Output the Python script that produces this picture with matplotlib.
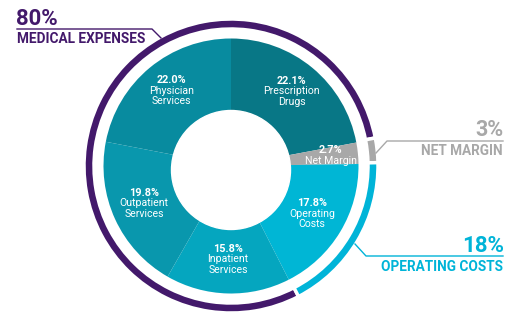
import numpy as np
import matplotlib
matplotlib.use("Agg")
import matplotlib.pyplot as plt
from matplotlib.patches import Circle

# data (clockwise from 12 o'clock)
categories = ["Prescription\nDrugs", "Net Margin", "Operating\nCosts",
              "Inpatient\nServices", "Outpatient\nServices", "Physician\nServices"]
shares = [22.1, 2.7, 17.8, 15.8, 19.8, 22.0]
groups = ["medical", "margin", "operating", "medical", "medical", "medical"]

group_names = ["MEDICAL EXPENSES", "NET MARGIN", "OPERATING COSTS"]
group_pcts = ["80%", "3%", "18%"]

wedge_colors = ["#087786", "#a8a8a8", "#00b6d5", "#05a6bf", "#0997ad", "#088b9f"]
group_colors = {"medical": "#43196b", "margin": "#a8a8a8", "operating": "#00b4d8"}

W, H = 531, 329
FONT = ["Roboto", "DejaVu Sans"]


def py(y):
    # picture y (from top) -> axes y
    return H - y


fig = plt.figure(figsize=(W / 100, H / 100), dpi=100)
ax = fig.add_axes([0, 0, 1, 1])

cx, cy = 231, 166
r_pie = 127.5

# inner pie
ax.pie(shares, colors=wedge_colors, startangle=90, counterclock=False,
       radius=r_pie, center=(cx, py(cy)), wedgeprops=dict(linewidth=0))

# outer ring: one arc per run of the same group
ring_vals, ring_cols = [], []
for s, g in zip(shares, groups):
    if ring_cols and ring_cols[-1] == group_colors[g]:
        ring_vals[-1] += s
    else:
        ring_vals.append(s)
        ring_cols.append(group_colors[g])
ring_start = 90
if len(ring_cols) > 1 and ring_cols[0] == ring_cols[-1]:
    # join the run that wraps past 12 o'clock
    last = ring_vals.pop()
    ring_cols.pop()
    ring_vals[0] += last
    ring_start = 90 + last * 3.6
ax.pie(ring_vals, colors=ring_cols, startangle=ring_start, counterclock=False,
       radius=147, center=(cx, py(cy)),
       wedgeprops=dict(width=10, edgecolor="white", linewidth=2.5))

# hole
ax.add_patch(Circle((cx, py(170)), 59.5, color="white", zorder=3))

# wedge labels
cum = 0
for name, s in zip(categories, shares):
    ang = 90 - (cum + s / 2) * 3.6
    cum += s
    lines = name.count("\n") + 1
    rad = 95 if lines > 1 else 100
    x = cx + rad * np.cos(np.radians(ang))
    y = cy - rad * np.sin(np.radians(ang))
    top = y - 6 * lines
    ax.text(x, py(top), f"{s:.1f}%", color="white", fontsize=7.8, fontweight="bold",
            family=FONT, ha="center", va="center", zorder=4)
    ax.text(x, py(top + 5.5), name, color="white", fontsize=7.6, family=FONT,
            ha="center", va="top", linespacing=1.05, zorder=4)

# callouts
purple, grey, cyan = group_colors["medical"], group_colors["margin"], group_colors["operating"]
ax.plot([17, 152, 161], [py(29), py(29), py(38)], color=purple, lw=1)
ax.text(16, py(25), group_pcts[0], color=purple, fontsize=16, fontweight="bold",
        family=FONT, ha="left", va="baseline")
ax.text(17, py(43), group_names[0], color=purple, fontsize=9.8, fontweight="bold",
        family=FONT, ha="left", va="baseline")

ax.plot([503, 387, 376], [py(141), py(141), py(153)], color=grey, lw=1)
ax.text(504, py(136), group_pcts[1], color=grey, fontsize=15.5, fontweight="bold",
        family=FONT, ha="right", va="baseline")
ax.text(503, py(155), group_names[1], color=grey, fontsize=9.8, fontweight="bold",
        family=FONT, ha="right", va="baseline")

ax.plot([503, 366, 355], [py(256), py(256), py(244)], color=cyan, lw=1)
ax.text(504, py(252), group_pcts[2], color=cyan, fontsize=16, fontweight="bold",
        family=FONT, ha="right", va="baseline")
ax.text(503, py(271), group_names[2], color=cyan, fontsize=9.8, fontweight="bold",
        family=FONT, ha="right", va="baseline")

ax.set_xlim(0, W)
ax.set_ylim(0, H)
ax.set_aspect("auto")
ax.axis("off")

fig.savefig("out.png", dpi=100)
